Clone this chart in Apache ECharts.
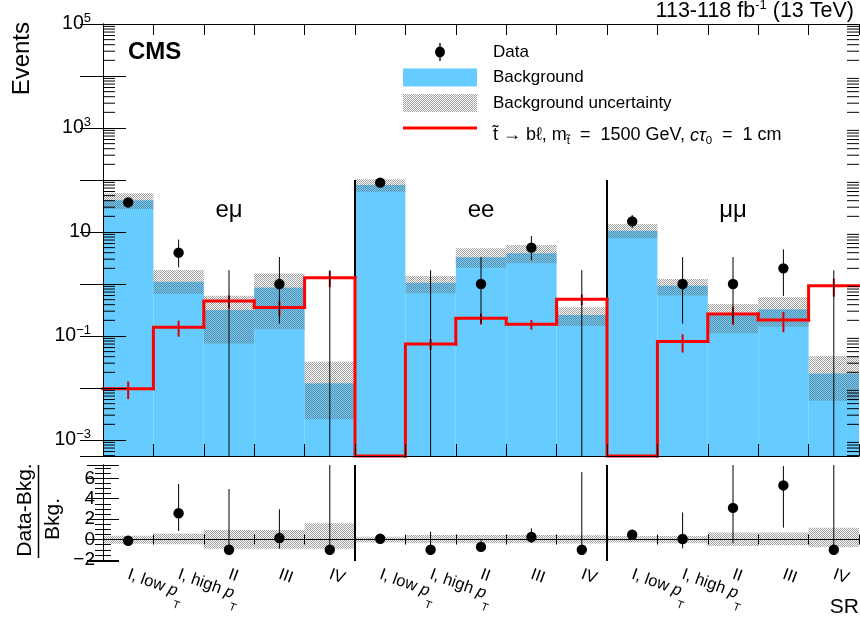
<!DOCTYPE html>
<html>
<head>
<meta charset="utf-8">
<script src="https://cdn.jsdelivr.net/npm/echarts@6.0.0/dist/echarts.min.js"></script>
<style>
html,body{margin:0;padding:0;background:#fff;}
#chart{width:860px;height:620px;}
</style>
</head>
<body>
<div id="chart"></div>
<script>
// ---------------- data ----------------
const binLabels = ['I, low p_T','I, high p_T','II','III','IV','I, low p_T','I, high p_T','II','III','IV','I, low p_T','I, high p_T','II','III','IV'];
const channelNames = ['eμ', 'ee', 'μμ'];
const channelEdges = [5, 10];
const background   = [41, 1.1, 0.316, 0.86, 0.0123, 80, 1.06, 3.26, 3.89, 0.253, 10.6, 0.92, 0.26, 0.326, 0.019];
const bkgUncUp     = [55.5, 1.86, 0.595, 1.6, 0.032, 103, 1.43, 4.85, 5.6, 0.356, 14.3, 1.25, 0.41, 0.555, 0.041];
const bkgUncDown   = [27.7, 0.64, 0.072, 0.135, 0.0025, 59.6, 0.66, 2.05, 2.5, 0.156, 7.6, 0.6, 0.113, 0.151, 0.0057];
const observed     = [37, 4, 0, 1, 0, 89, 0, 1, 5, 0, 16, 1, 1, 2, 0];
const observedLow  = [31, 2.09, 0, 0.173, 0, 80, 0, 0.173, 2.84, 0, 12, 0.173, 0.173, 0.59, 0];
const observedHigh = [43, 7.16, 1.84, 3.3, 1.84, 98.5, 1.84, 3.3, 8.38, 1.84, 21.3, 3.3, 3.3, 4.64, 1.84];
const signal       = [0.0097, 0.147, 0.47, 0.355, 1.32, 0, 0.070, 0.219, 0.168, 0.51, 0, 0.078, 0.265, 0.203, 0.92];
const signalErr    = [0.0036, 0.05, 0.13, 0.11, 0.45, 0, 0.016, 0.053, 0.035, 0.12, 0, 0.03, 0.1, 0.085, 0.35];
const ratio        = [-0.12, 2.58, -1, 0.15, -1, 0.08, -1, -0.72, 0.25, -1, 0.47, 0.05, 3.1, 5.3, -1];
const ratioLow     = [-0.25, 0.84, -1, -0.9, -1, -0.02, -1, -1.02, -0.33, -1, 0.09, -0.87, -0.37, 1.16, -1];
const ratioHigh    = [0.02, 5.44, 4.95, 2.97, 148, 0.2, 0.77, -0.07, 1.1, 6.6, 0.97, 2.64, 12.5, 7.2, 96];
const ratioBandLow = [-0.4, -0.47, -0.9, -0.9, -0.9, -0.3, -0.37, -0.37, -0.37, -0.38, -0.3, -0.35, -0.64, -0.55, -0.75];
const ratioBandHigh= [0.37, 0.6, 0.94, 0.94, 1.6, 0.28, 0.44, 0.44, 0.44, 0.41, 0.35, 0.35, 0.7, 0.7, 1.16];

// ---------------- styling ----------------
const YMIN = 4.92e-4, YMAX = 1e5;
const RMIN = -2.1, RMAX = 7.3;
const NB = binLabels.length;
const FONT = '"Liberation Sans", Arial, Helvetica, sans-serif';
const BLUE = '#66ccff';
const RED = '#ff0000';

function makeDots() {
  const c = document.createElement('canvas');
  c.width = 2; c.height = 2;
  const ctx = c.getContext('2d');
  ctx.fillStyle = 'rgba(100,100,100,0.62)';
  ctx.fillRect(0, 0, 1, 1);
  ctx.fillRect(1, 1, 1, 1);
  return c;
}
const dots = { image: makeDots(), repeat: 'repeat' };

const minorVals = [];
for (let e = -4; e <= 4; e++) for (let m = 2; m <= 9; m++) {
  const v = m * Math.pow(10, e);
  if (v > YMIN && v < YMAX) minorVals.push(v);
}

function logLabel(v) {
  const l = Math.log10(v), e = Math.round(l);
  if (Math.abs(l - e) > 1e-6) return '';
  if (((e % 2) + 2) % 2 !== 1) return '';
  if (e === 1) return '{b|10}';
  return '{b|10}{s|' + String(e).replace('-', '\u2212') + '}';
}
function ratioLabel(v) {
  const r = Math.round(v);
  if (Math.abs(v - r) > 1e-6 || r % 2 !== 0) return '';
  return String(r).replace('-', '\u2212');
}
function binLabelFmt(s) {
  return s.replace(/p_T$/, '{p|p}{t|T}').replace(/^([^{]*)/, '{n|$1}');
}
function rectBetween(api, x0, y0, x1, y1) {
  const a = api.coord([x0, y0]), b = api.coord([x1, y1]);
  return { x: Math.min(a[0], b[0]), y: Math.min(a[1], b[1]), width: Math.abs(b[0] - a[0]), height: Math.abs(b[1] - a[1]) };
}
function vline(api, x, y0, y1, color, w) {
  const a = api.coord([x, y0]), b = api.coord([x, y1]);
  return { type: 'line', shape: { x1: a[0], y1: a[1], x2: b[0], y2: b[1] }, style: { stroke: color, lineWidth: w } };
}

const axisCommon = {
  z: 10,
  axisLine: { show: true, lineStyle: { color: '#000', width: 1 } },
  splitLine: { show: false },
  axisLabel: { show: false }
};
const legendText = {
  fontSize: 17, color: '#000', fontFamily: FONT, padding: [0, 0, 0, 11],
  rich: {
    a: { fontSize: 18, color: '#000', fontFamily: FONT, lineHeight: 22 },
    i: { fontSize: 18, color: '#000', fontFamily: FONT, fontStyle: 'italic', lineHeight: 22 },
    sb: { fontSize: 11.5, color: '#000', fontFamily: FONT, lineHeight: 11, verticalAlign: 'bottom' }
  }
};

const chart = echarts.init(document.getElementById('chart'), null, { renderer: 'canvas' });
chart.setOption({
  animation: false,
  backgroundColor: '#fff',
  textStyle: { fontFamily: FONT },
  grid: [
    { left: 103, right: 1, top: 24, height: 432, containLabel: false, outerBoundsMode: 'none' },
    { left: 103, right: 1, top: 465, height: 96, containLabel: false, outerBoundsMode: 'none' }
  ],
  xAxis: [
    Object.assign({}, axisCommon, { type: 'value', gridIndex: 0, position: 'bottom', min: 0, max: NB, interval: 1,
      axisTick: { show: true, inside: true, length: 12, lineStyle: { color: '#000' } } }),
    Object.assign({}, axisCommon, { type: 'value', gridIndex: 0, position: 'top', min: 0, max: NB, interval: 1,
      axisTick: { show: true, inside: true, length: 11, lineStyle: { color: '#000' } } }),
    Object.assign({}, axisCommon, { type: 'value', gridIndex: 1, position: 'bottom', min: 0, max: NB, interval: 1,
      axisTick: { show: true, inside: true, length: 5, lineStyle: { color: '#000' } } }),
    Object.assign({}, axisCommon, { type: 'value', gridIndex: 1, position: 'top', min: 0, max: NB, interval: 1,
      axisTick: { show: true, inside: true, length: 5, lineStyle: { color: '#000' } } }),
    {
      type: 'category', gridIndex: 1, position: 'bottom', data: binLabels, z: 10,
      axisLine: { show: false }, axisTick: { show: false }, splitLine: { show: false },
      name: 'SR', nameLocation: 'end', nameGap: 0,
      nameTextStyle: { fontSize: 21, color: '#000', fontFamily: FONT, align: 'right', verticalAlign: 'top', padding: [36, 0, 0, 0] },
      axisLabel: {
        show: true, interval: 0, rotate: -20, margin: 13, color: '#000', fontFamily: FONT, hideOverlap: false,
        formatter: binLabelFmt,
        rich: {
          n: { fontSize: 16.5, lineHeight: 17, fontFamily: FONT, color: '#000' },
          p: { fontSize: 16.5, lineHeight: 17, fontFamily: FONT, color: '#000', fontStyle: 'italic' },
          t: { fontSize: 11, lineHeight: 11, fontFamily: FONT, color: '#000', verticalAlign: 'top', padding: [16, 0, 0, 0] }
        }
      }
    }
  ],
  yAxis: [
    Object.assign({}, axisCommon, { type: 'log', logBase: 10, gridIndex: 0, position: 'left', min: YMIN, max: YMAX,
      axisTick: { show: true, inside: true, length: 23, lineStyle: { color: '#000' } },
      axisLabel: { show: true, margin: 12, hideOverlap: false, showMinLabel: true, showMaxLabel: true, formatter: logLabel,
        rich: {
          b: { fontSize: 19.5, lineHeight: 24, color: '#000', fontFamily: FONT },
          s: { fontSize: 13, lineHeight: 13, verticalAlign: 'top', color: '#000', fontFamily: FONT }
        } } }),
    Object.assign({}, axisCommon, { type: 'log', logBase: 10, gridIndex: 0, position: 'right', min: YMIN, max: YMAX,
      axisTick: { show: true, inside: true, length: 23, lineStyle: { color: '#000' } } }),
    Object.assign({}, axisCommon, { type: 'value', gridIndex: 1, position: 'left', min: RMIN, max: RMAX, splitNumber: 5,
      axisTick: { show: true, inside: true, length: 16, lineStyle: { color: '#000' } },
      minorTick: { show: true, splitNumber: 4, length: 8, lineStyle: { color: '#000' } },
      axisLabel: { show: true, margin: 8, fontSize: 19, color: '#000', fontFamily: FONT, hideOverlap: false, formatter: ratioLabel } }),
    Object.assign({}, axisCommon, { type: 'value', gridIndex: 1, position: 'right', min: RMIN, max: RMAX, splitNumber: 5,
      axisTick: { show: true, inside: true, length: 16, lineStyle: { color: '#000' } },
      minorTick: { show: true, splitNumber: 4, length: 8, lineStyle: { color: '#000' } } })
  ],
  legend: [
    {
      orient: 'vertical', left: 403, top: 43, itemWidth: 74, itemHeight: 18, itemGap: 7.5,
      selectedMode: false, padding: 0, textStyle: legendText,
      data: [
        { name: 'Data', icon: 'path://M4.4,0H5.6V3.14A5,5,0,0,1,5.6,12.86V16H4.4V12.86A5,5,0,0,1,4.4,3.14Z', itemStyle: { color: '#000' } },
        { name: 'Background', icon: 'rect', itemStyle: { color: BLUE } },
        { name: 'Background uncertainty', icon: 'rect', itemStyle: { color: dots } }
      ]
    },
    {
      orient: 'vertical', left: 403, top: 126.5, itemWidth: 74, itemHeight: 18,
      selectedMode: false, padding: 0, textStyle: legendText,
      formatter: function () {
        return '{a|t\u0303 \u2192 b\u2113, m}{sb|t\u0303}{a|  =  1500 GeV, }{i|c\u03c4}{sb|0}{a|  =  1 cm}';
      },
      data: [
        { name: 'Signal', icon: 'path://M0,0H74V3H0ZM0,18L0,18', itemStyle: { color: RED } }
      ]
    }
  ],
  graphic: [
    { type: 'text', x: 128, y: 52, z: 20, style: { text: 'CMS', font: 'bold 24px ' + FONT, fill: '#000', align: 'left', verticalAlign: 'middle', textAlign: 'left', textVerticalAlign: 'middle' } },
    { type: 'text', x: 854, y: 11, z: 20, style: {
        text: '{a|113-118 fb}{s|-1}{a| (13 TeV)}', align: 'right', verticalAlign: 'middle', textAlign: 'right', textVerticalAlign: 'middle',
        rich: { a: { fontSize: 21.5, lineHeight: 24, fill: '#000', fontFamily: FONT }, s: { fontSize: 13, lineHeight: 13, verticalAlign: 'top', fill: '#000', fontFamily: FONT } } } },
    { type: 'text', x: 229, y: 210, z: 20, style: { text: channelNames[0], font: '24px ' + FONT, fill: '#000', align: 'center', verticalAlign: 'middle', textAlign: 'center', textVerticalAlign: 'middle' } },
    { type: 'text', x: 481, y: 210, z: 20, style: { text: channelNames[1], font: '24px ' + FONT, fill: '#000', align: 'center', verticalAlign: 'middle', textAlign: 'center', textVerticalAlign: 'middle' } },
    { type: 'text', x: 733, y: 210, z: 20, style: { text: channelNames[2], font: '24px ' + FONT, fill: '#000', align: 'center', verticalAlign: 'middle', textAlign: 'center', textVerticalAlign: 'middle' } },
    { type: 'text', x: 22, y: 22, rotation: Math.PI / 2, z: 20, style: { text: 'Events', font: '24px ' + FONT, fill: '#000', align: 'right', verticalAlign: 'middle', textAlign: 'right', textVerticalAlign: 'middle' } },
    { type: 'text', x: 25, y: 510, rotation: Math.PI / 2, z: 20, style: { text: 'Data-Bkg.', font: '21px ' + FONT, fill: '#000', align: 'center', verticalAlign: 'middle', textAlign: 'center', textVerticalAlign: 'middle' } },
    { type: 'text', x: 53, y: 519, rotation: Math.PI / 2, z: 20, style: { text: 'Bkg.', font: '21px ' + FONT, fill: '#000', align: 'center', verticalAlign: 'middle', textAlign: 'center', textVerticalAlign: 'middle' } },
    { type: 'line', z: 20, shape: { x1: 38.5, y1: 465, x2: 38.5, y2: 558 }, style: { stroke: '#000', lineWidth: 1.5 } }
  ],
  series: [
    {
      name: 'Background', type: 'custom', xAxisIndex: 0, yAxisIndex: 0, z: 2, itemStyle: { color: BLUE },
      data: background.map((v, i) => [i, v]),
      renderItem: (p, api) => ({ type: 'rect', shape: rectBetween(api, api.value(0), YMIN, api.value(0) + 1, api.value(1)), style: { fill: BLUE } })
    },
    {
      name: 'Background uncertainty', type: 'custom', xAxisIndex: 0, yAxisIndex: 0, z: 3, itemStyle: { color: dots },
      encode: { x: 0, y: [1, 2] },
      data: background.map((v, i) => [i, bkgUncDown[i], bkgUncUp[i]]),
      renderItem: (p, api) => ({ type: 'rect', shape: rectBetween(api, api.value(0), api.value(1), api.value(0) + 1, api.value(2)), style: { fill: dots } })
    },
    {
      name: 'separators', type: 'custom', xAxisIndex: 0, yAxisIndex: 0, z: 4,
      data: channelEdges.map(x => [x, YMIN, 100]),
      encode: { x: 0, y: [1, 2] },
      renderItem: (p, api) => vline(api, api.value(0), api.value(1), api.value(2), '#000', 2)
    },
    {
      name: 'Signal', type: 'custom', xAxisIndex: 0, yAxisIndex: 0, z: 5, itemStyle: { color: RED },
      encode: { x: 0, y: 1 },
      data: signal.map((v, i) => [i, v, i > 0 ? signal[i - 1] : null, signalErr[i]]),
      renderItem: (p, api) => {
        const i = api.value(0), raw = api.value(1), s = Math.max(raw, YMIN), err = api.value(3);
        const pts = [];
        if (i > 0) pts.push(api.coord([i, Math.max(api.value(2), YMIN)]));
        pts.push(api.coord([i, s]), api.coord([i + 1, s]));
        const ch = [{ type: 'polyline', shape: { points: pts }, style: { stroke: RED, lineWidth: 3, fill: null, lineCap: 'square', lineJoin: 'miter' } }];
        if (raw > 0 && err > 0) ch.push(vline(api, i + 0.5, raw - err, raw + err, '#dd0000', 2));
        return { type: 'group', children: ch };
      }
    },
    {
      name: 'Data', type: 'custom', xAxisIndex: 0, yAxisIndex: 0, z: 6, itemStyle: { color: '#000' },
      encode: { x: 0, y: 1 },
      data: observed.map((v, i) => [i, v, observedLow[i], observedHigh[i]]),
      renderItem: (p, api) => {
        const x = api.value(0) + 0.5, d = api.value(1);
        const ch = [vline(api, x, Math.max(api.value(2), YMIN), api.value(3), '#000', 1)];
        if (d > 0) { const c = api.coord([x, d]); ch.push({ type: 'circle', shape: { cx: c[0], cy: c[1], r: 5.2 }, style: { fill: '#000' } }); }
        return { type: 'group', children: ch };
      }
    },
    {
      name: 'minorTicks', type: 'custom', xAxisIndex: 0, yAxisIndex: 0, z: 11,
      data: minorVals.map(v => [0, v]),
      renderItem: (p, api) => {
        const a = api.coord([0, api.value(1)]), b = api.coord([NB, api.value(1)]);
        return { type: 'group', children: [
          { type: 'line', shape: { x1: a[0], y1: a[1], x2: a[0] + 12, y2: a[1] }, style: { stroke: '#000', lineWidth: 1 } },
          { type: 'line', shape: { x1: b[0] - 12, y1: b[1], x2: b[0], y2: b[1] }, style: { stroke: '#000', lineWidth: 1 } }
        ] };
      }
    },
    {
      name: 'ratioBand', type: 'custom', xAxisIndex: 2, yAxisIndex: 2, z: 3, clip: true,
      encode: { x: 0, y: [1, 2] },
      data: ratioBandLow.map((v, i) => [i, v, ratioBandHigh[i]]),
      renderItem: (p, api) => ({ type: 'rect', shape: rectBetween(api, api.value(0), api.value(1), api.value(0) + 1, api.value(2)), style: { fill: dots } })
    },
    {
      name: 'ratioSeparators', type: 'custom', xAxisIndex: 2, yAxisIndex: 2, z: 4, clip: false,
      data: channelEdges.map(x => [x, RMIN, RMAX]),
      encode: { x: 0, y: [1, 2] },
      renderItem: (p, api) => vline(api, api.value(0), api.value(1), api.value(2), '#000', 2)
    },
    {
      name: 'ratioData', type: 'custom', xAxisIndex: 2, yAxisIndex: 2, z: 6, clip: true,
      encode: { x: 0, y: 1 },
      data: ratio.map((v, i) => [i, v, ratioLow[i], ratioHigh[i]]),
      renderItem: (p, api) => {
        const x = api.value(0) + 0.5;
        const c = api.coord([x, api.value(1)]);
        return { type: 'group', children: [
          vline(api, x, api.value(2), Math.min(api.value(3), RMAX + 1), '#000', 1),
          { type: 'circle', shape: { cx: c[0], cy: c[1], r: 5.2 }, style: { fill: '#000' } }
        ] };
      }
    }
  ]
});
</script>
</body>
</html>
